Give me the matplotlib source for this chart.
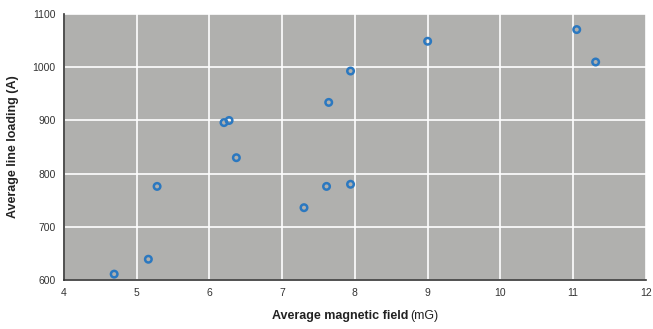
import matplotlib
matplotlib.use("Agg")
import matplotlib.pyplot as plt

mag_field = [4.69, 5.16, 5.28, 6.20, 6.27, 6.37, 7.30, 7.61, 7.64, 7.94, 7.94, 9.00, 11.05, 11.31]
line_loading = [611, 639, 776, 896, 900, 830, 736, 776, 934, 993, 780, 1049, 1071, 1010]
x_ticks = [4, 5, 6, 7, 8, 9, 10, 11, 12]
y_ticks = [600, 700, 800, 900, 1000, 1100]

font = "Liberation Sans"

fig = plt.figure(figsize=(6.53, 3.29), dpi=100)
ax = fig.add_axes([0.098, 0.149, 0.891, 0.808])
ax.set_facecolor("#b0b0ae")
ax.scatter(mag_field, line_loading, s=22, facecolors="none", edgecolors="#2b78c0", linewidths=1.8, zorder=3)
ax.set_xlim(4, 12)
ax.set_ylim(600, 1100)
ax.set_xticks(x_ticks)
ax.set_yticks(y_ticks)
ax.grid(True, color="white", linewidth=1.2, zorder=1)
ax.set_axisbelow(True)
for s in ["top", "right"]:
    ax.spines[s].set_visible(False)
ax.spines["left"].set_color("#333333")
ax.spines["bottom"].set_color("#333333")
ax.spines["left"].set_linewidth(1.2)
ax.spines["bottom"].set_linewidth(1.2)
ax.tick_params(length=0, pad=6, labelsize=7.5, colors="#333333")
for lab in ax.get_xticklabels() + ax.get_yticklabels():
    lab.set_family(font)
ax.set_ylabel("Average line loading (A)", fontsize=9, fontweight="bold", family=font, color="#222222")
ax.yaxis.set_label_coords(-0.078, 0.5)
fig.text(0.626, 0.04, "Average magnetic field", fontsize=9, fontweight="bold", family=font, ha="right", va="center", color="#222222")
fig.text(0.629, 0.04, "(mG)", fontsize=9, family=font, ha="left", va="center", color="#222222")
fig.savefig("out.png", dpi=100)
